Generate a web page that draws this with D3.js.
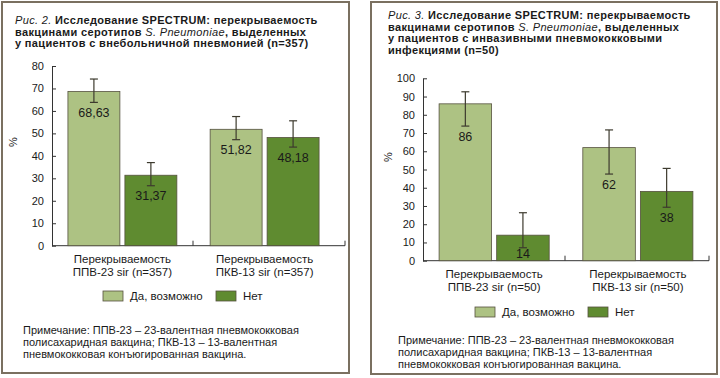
<!DOCTYPE html>
<html><head><meta charset="utf-8">
<script src="https://cdn.jsdelivr.net/npm/d3@7"></script>
<style>body{margin:0;background:#fff}svg{display:block}text{font-family:"Liberation Sans",Arial,sans-serif;fill:#1a1a1a}</style>
</head><body>
<svg id="c" width="720" height="378"></svg>
<script>
const categories1 = ["Перекрываемость|ППВ-23 sir (n=357)", "Перекрываемость|ПКВ-13 sir (n=357)"];
const categories2 = ["Перекрываемость|ППВ-23 sir (n=50)", "Перекрываемость|ПКВ-13 sir (n=50)"];
const seriesNames = ["Да, возможно", "Нет"];
const yes1 = [68.63, 51.82], no1 = [31.37, 48.18];
const yesHi1 = [74.2, 57.5], yesLo1 = [63.8, 47.2];
const noHi1 = [37.0, 55.6], noLo1 = [26.7, 43.9];
const labels1 = [["68,63","31,37"],["51,82","48,18"]];
const yes2 = [86, 62], no2 = [14, 38];
const yesHi2 = [92.6, 71.7], yesLo2 = [73.8, 47.5];
const noHi2 = [26.3, 50.6], noLo2 = [7.1, 29.3];
const labels2 = [["86","14"],["62","38"]];
const ticks1 = [0,10,20,30,40,50,60,70,80];
const ticks2 = [0,10,20,30,40,50,60,70,80,90,100];
const title1 = ["Рис. 2.|Исследование SPECTRUM: перекрываемость", "вакцинами серотипов |S. Pneumoniae|, выделенных", "у пациентов с внебольничной пневмонией (n=357)"];
const title2 = ["Рис. 3.|Исследование SPECTRUM: перекрываемость", "вакцинами серотипов |S. Pneumoniae|, выделенных", "у пациентов с инвазивными пневмококковыми", "инфекциями (n=50)"];
const note = ["Примечание: ППВ-23 – 23-валентная пневмококковая", "полисахаридная вакцина; ПКВ-13 – 13-валентная", "пневмококковая конъюгированная вакцина."];
const colors = ["#adc283", "#5f8b30"];

const svg = d3.select("#c");

function panel(o){
  const g = svg.append("g");
  g.append("rect").attr("x",o.fx).attr("y",o.fy).attr("width",o.fw).attr("height",o.fh)
    .attr("fill","none").attr("stroke","#7a7060").attr("stroke-width",2);
  // title
  o.title.forEach((line,i)=>{
    const t = g.append("text").attr("x",o.tx).attr("y",o.ty+i*o.tl).attr("font-size",11).attr("letter-spacing",0.35).attr("font-weight","bold");
    if(i===0){
      const p=line.split("|");
      t.append("tspan").attr("font-style","italic").attr("font-weight","normal").text(p[0]+" ");
      t.append("tspan").text(p[1]);
    } else if(line.includes("|")){
      const p=line.split("|");
      t.append("tspan").text(p[0]);
      t.append("tspan").attr("font-style","italic").attr("font-weight","normal").text(p[1]);
      t.append("tspan").text(p[2]);
    } else t.text(line);
  });
  const y = d3.scaleLinear().domain([0,o.max]).range([o.y0,o.y1]);
  const x0 = d3.scaleBand().domain(o.cats).range([o.x0,o.x1]).paddingInner(0.234).paddingOuter(0.112);
  const x1 = d3.scaleBand().domain([0,1]).range([0,x0.bandwidth()]).paddingInner(0.088);
  // axes
  const ya = d3.axisLeft(y).tickValues(o.ticks).tickSize(-4).tickPadding(8).tickSizeOuter(0);
  const ag = g.append("g").attr("transform",`translate(${o.x0},0)`).call(ya);
  ag.select(".domain").attr("stroke","#333");
  ag.selectAll(".tick line").attr("stroke","#333");
  ag.selectAll(".tick text").attr("font-size",11).attr("fill","#1a1a1a").style("font-family",'"Liberation Sans",Arial');
  g.append("line").attr("x1",o.x0).attr("x2",o.xe).attr("y1",o.y0).attr("y2",o.y0).attr("stroke","#333");
  [o.xm,o.xe].forEach(xx=>g.append("line").attr("x1",xx).attr("x2",xx).attr("y1",o.y0).attr("y2",o.y0-5).attr("stroke","#333"));
  g.append("text").attr("transform",`translate(${o.px},${o.py}) rotate(-90)`).attr("text-anchor","middle").attr("font-size",11).text("%");
  // bars
  o.cats.forEach((c,ci)=>{
    const vals=[o.yes[ci],o.no[ci]], his=[o.yesHi[ci],o.noHi[ci]], los=[o.yesLo[ci],o.noLo[ci]];
    vals.forEach((v,si)=>{
      const bx = x0(c)+x1(si), bw=x1.bandwidth();
      g.append("rect").attr("x",bx).attr("y",y(v)).attr("width",bw).attr("height",y(0)-y(v))
        .attr("fill",colors[si]).attr("stroke","#55513f").attr("stroke-width",0.8);
      const cx=bx+bw/2;
      g.append("line").attr("x1",cx).attr("x2",cx).attr("y1",y(his[si])).attr("y2",y(los[si])).attr("stroke","#3d3a2e").attr("stroke-width",1.2);
      [his[si],los[si]].forEach(e=>g.append("line").attr("x1",cx-4).attr("x2",cx+4).attr("y1",y(e)).attr("y2",y(e)).attr("stroke","#3d3a2e").attr("stroke-width",1.2));
      g.append("text").attr("x",cx).attr("y",Math.min(y(los[si])+14.5,o.y0-3)).attr("text-anchor","middle").attr("font-size",12.5).text(o.labels[ci][si]);
    });
    const parts=c.split("|");
    parts.forEach((p,pi)=>g.append("text").attr("x",x0(c)+x0.bandwidth()/2).attr("y",o.y0+17+pi*13).attr("text-anchor","middle").attr("font-size",11.5).text(p));
  });
  // legend
  o.leg.forEach((lx,i)=>{
    g.append("rect").attr("x",lx).attr("y",o.ly-5).attr("width",20).attr("height",10).attr("fill",colors[i]).attr("stroke","#55513f").attr("stroke-width",0.8);
    g.append("text").attr("x",lx+27).attr("y",o.ly+4).attr("font-size",11.5).text(seriesNames[i]);
  });
  note.forEach((n,i)=>g.append("text").attr("x",o.nx).attr("y",o.ny+i*11.8).attr("font-size",11).text(n));
}

panel({fx:2,fy:2,fw:347,fh:371,tx:15,ty:24,tl:11.7,title:title1,max:80,ticks:ticks1,y0:245.7,y1:66,x0:52,x1:335,xm:193,xe:345,
  cats:categories1,yes:yes1,no:no1,yesHi:yesHi1,yesLo:yesLo1,noHi:noHi1,noLo:noLo1,labels:labels1,px:17,py:142,
  leg:[103,216],ly:296,nx:23,ny:334});
panel({fx:371,fy:2,fw:346,fh:372,tx:388,ty:19,tl:11.5,title:title2,max:100,ticks:ticks2,y0:260.7,y1:78.3,x0:423,x1:709,xm:565,xe:709,
  cats:categories2,yes:yes2,no:no2,yesHi:yesHi2,yesLo:yesLo2,noHi:noHi2,noLo:noLo2,labels:labels2,px:392,py:157,
  leg:[475,588],ly:312,nx:398,ny:344});
</script>
</body></html>
